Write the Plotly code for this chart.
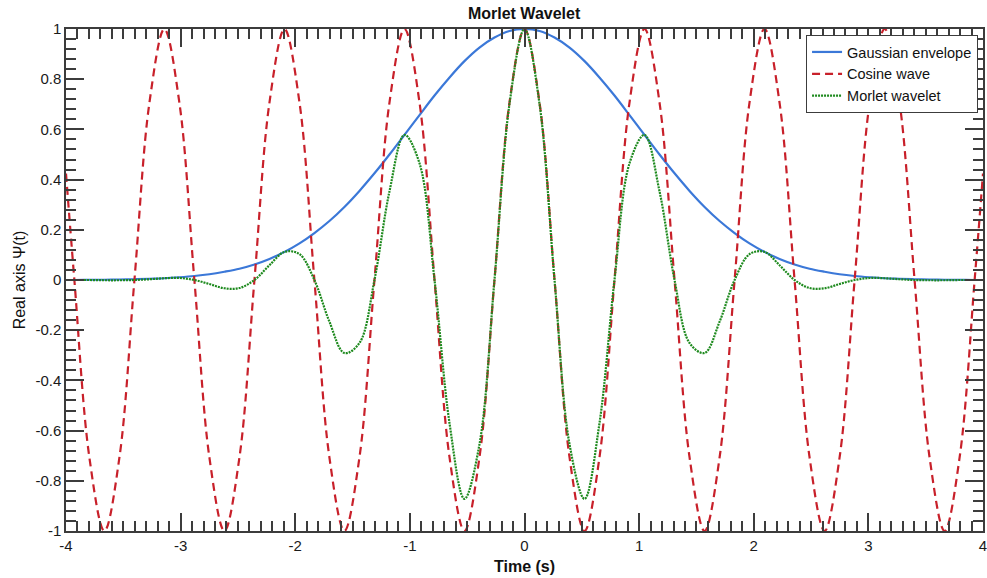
import plotly.graph_objects as go

# Time samples (s)
t = [-4, -3.927, -3.796, -3.665, -3.534, -3.403, -3.272, -3.142, -3.011, -2.880,
     -2.749, -2.618, -2.487, -2.356, -2.225, -2.094, -1.963, -1.833, -1.702, -1.571,
     -1.440, -1.309, -1.178, -1.047, -0.916, -0.785, -0.654, -0.524, -0.393, -0.262,
     -0.131, 0, 0.131, 0.262, 0.393, 0.524, 0.654, 0.785, 0.916, 1.047,
     1.178, 1.309, 1.440, 1.571, 1.702, 1.833, 1.963, 2.094, 2.225, 2.356,
     2.487, 2.618, 2.749, 2.880, 3.011, 3.142, 3.272, 3.403, 3.534, 3.665,
     3.796, 3.927, 4]

gaussian = [0.000, 0.000, 0.001, 0.001, 0.002, 0.003, 0.005, 0.007, 0.011, 0.016,
            0.023, 0.033, 0.045, 0.062, 0.084, 0.112, 0.146, 0.187, 0.235, 0.291,
            0.355, 0.425, 0.500, 0.578, 0.657, 0.735, 0.807, 0.872, 0.926, 0.966,
            0.992, 1.000, 0.992, 0.966, 0.926, 0.872, 0.807, 0.735, 0.657, 0.578,
            0.500, 0.425, 0.355, 0.291, 0.235, 0.187, 0.146, 0.112, 0.084, 0.062,
            0.045, 0.033, 0.023, 0.016, 0.011, 0.007, 0.005, 0.003, 0.002, 0.001,
            0.001, 0.000, 0.000]

cosine = [0.424, 0, -0.707, -1, -0.707, 0, 0.707, 1, 0.707, 0,
          -0.707, -1, -0.707, 0, 0.707, 1, 0.707, 0, -0.707, -1,
          -0.707, 0, 0.707, 1, 0.707, 0, -0.707, -1, -0.707, 0,
          0.707, 1, 0.707, 0, -0.707, -1, -0.707, 0, 0.707, 1,
          0.707, 0, -0.707, -1, -0.707, 0, 0.707, 1, 0.707, 0,
          -0.707, -1, -0.707, 0, 0.707, 1, 0.707, 0, -0.707, -1,
          -0.707, 0, 0.424]

morlet = [0.000, 0.000, -0.000, -0.001, -0.001, 0.000, 0.003, 0.007, 0.008, 0.000,
          -0.016, -0.033, -0.032, 0.000, 0.059, 0.112, 0.103, 0.000, -0.166, -0.291,
          -0.251, 0.000, 0.353, 0.578, 0.465, 0.000, -0.571, -0.872, -0.655, 0.000,
          0.701, 1.000, 0.701, 0.000, -0.655, -0.872, -0.571, 0.000, 0.465, 0.578,
          0.353, 0.000, -0.251, -0.291, -0.166, 0.000, 0.103, 0.112, 0.059, 0.000,
          -0.032, -0.033, -0.016, 0.000, 0.008, 0.007, 0.003, 0.000, -0.001, -0.001,
          -0.000, 0.000, 0.000]

x_ticks = [-4, -3, -2, -1, 0, 1, 2, 3, 4]
x_labels = ["-4", "-3", "-2", "-1", "0", "1", "2", "3", "4"]
y_ticks = [-1, -0.8, -0.6, -0.4, -0.2, 0, 0.2, 0.4, 0.6, 0.8, 1]
y_labels = ["-1", "-0.8", "-0.6", "-0.4", "-0.2", "0", "0.2", "0.4", "0.6", "0.8", "1"]

FONT = "Liberation Sans, Arial, sans-serif"
AXC = "#3c3c3c"

fig = go.Figure()
fig.add_trace(go.Scatter(x=t, y=gaussian, mode="lines", name="Gaussian envelope",
                         line=dict(color="#3b78d8", width=2.2, shape="spline", smoothing=1)))
fig.add_trace(go.Scatter(x=t, y=cosine, mode="lines", name="Cosine wave",
                         line=dict(color="#c8202a", width=2.2, dash="8px,5px",
                                   shape="spline", smoothing=1)))
fig.add_trace(go.Scatter(x=t, y=morlet, mode="lines", name="Morlet wavelet",
                         line=dict(color="#1e8a1e", width=2.2, dash="2px,1px",
                                   shape="spline", smoothing=1)))

axis_common = dict(
    showline=True, linecolor=AXC, linewidth=1.5, mirror="allticks",
    ticks="inside", ticklen=18, tickwidth=1.5, tickcolor=AXC,
    showgrid=False, zeroline=False, automargin=False, ticklabeloverflow="allow",
    tickfont=dict(family=FONT, size=15, color="#1a1a1a"),
)

fig.update_layout(
    width=987, height=578,
    margin=dict(l=66, r=4, t=29, b=47, autoexpand=False),
    paper_bgcolor="white", plot_bgcolor="white",
    title=dict(text="<b>Morlet Wavelet</b>", x=0.531, xanchor="center",
               y=1 - 13 / 578, yanchor="middle", automargin=False,
               font=dict(family=FONT, size=16, color="#111")),
    xaxis=dict(range=[-4, 4], tickmode="array", tickvals=x_ticks, ticktext=x_labels,
               minor=dict(dtick=0.1, tick0=-4, ticklen=10, ticks="inside",
                          tickwidth=1.5, tickcolor=AXC),
               title=dict(text="<b>Time (s)</b>", standoff=8,
                          font=dict(family=FONT, size=16, color="#111")),
               **axis_common),
    yaxis=dict(range=[-1, 1], tickmode="array", tickvals=y_ticks, ticktext=y_labels,
               minor=dict(dtick=0.04, tick0=-1, ticklen=10, ticks="inside",
                          tickwidth=1.5, tickcolor=AXC),
               title=dict(text="Real axis Ψ(t)", standoff=6,
                          font=dict(family=FONT, size=16, color="#111")),
               **axis_common),
    legend=dict(x=0.9946, y=0.988, xanchor="right", yanchor="top",
                bgcolor="white", bordercolor=AXC, borderwidth=1,
                font=dict(family=FONT, size=14.5, color="#111"),
                itemwidth=30, tracegroupgap=0),
    showlegend=True,
)

fig.write_html("out.html", config={"displayModeBar": False},
               post_script="document.body.style.margin='0px';document.body.style.overflow='hidden';")
